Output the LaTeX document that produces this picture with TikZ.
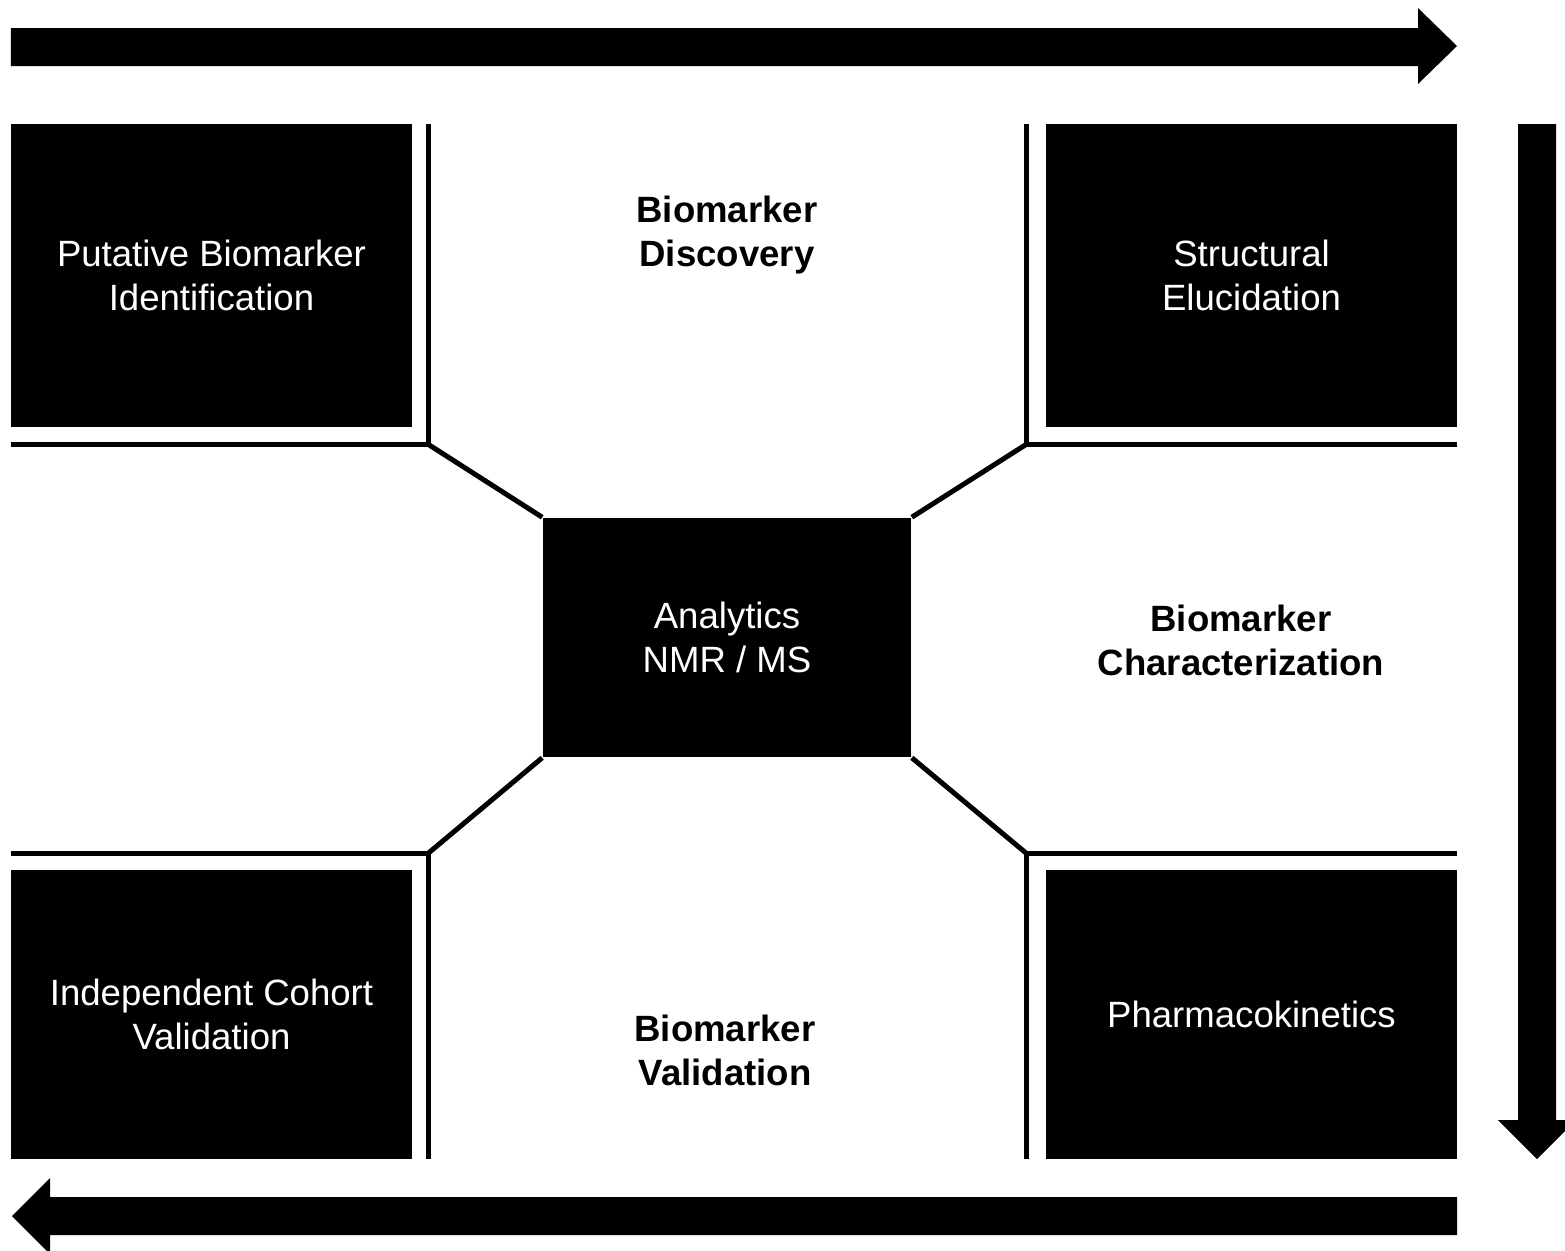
\documentclass[tikz,border=0pt]{standalone}
\usepackage{fontspec}
\setmainfont{Liberation Sans}
\usepackage{tikz}
\usetikzlibrary{positioning,calc}

\begin{document}
\begin{tikzpicture}[x=0.01cm, y=-0.01cm,
  every node/.style={font=\fontsize{10.4}{12.5}\selectfont, align=center},
  stagebox/.style={fill=black, text=white, inner sep=0pt, minimum width=4.01cm},
  stagename/.style={font=\fontsize{10.4}{12.5}\selectfont\bfseries},
  frame/.style={line width=0.05cm},
  bigarrow/.style={fill=black}]
\useasboundingbox (0,0) rectangle (1565,1250);
\clip (0,0) rectangle (1565,1250);

% process arrows round the edge
\fill[bigarrow] (11,28) -- (1418,28) -- (1418,8) -- (1457,46) -- (1418,84) -- (1418,66) -- (11,66) -- cycle;
\fill[bigarrow] (1518,124) -- (1556,124) -- (1556,1120) -- (1576,1120) -- (1537,1159) -- (1498,1120) -- (1518,1120) -- cycle;
\fill[bigarrow] (1457,1197) -- (50,1197) -- (50,1178) -- (12,1216) -- (50,1254) -- (50,1235) -- (1457,1235) -- cycle;

% corner boxes
\node[stagebox, minimum height=3.03cm] (ident) at (211.5,275.5) {Putative Biomarker\\Identification};
\node[stagebox, minimum width=4.11cm, minimum height=3.03cm] (struct) at (1251.5,275.5) {Structural\\Elucidation};
\node[stagebox, minimum height=2.89cm] (cohort) at (211.5,1014.5) {Independent Cohort\\Validation};
\node[stagebox, minimum width=4.11cm, minimum height=2.89cm] (pk) at (1251.5,1014.5) {Pharmacokinetics};

% centre
\node[stagebox, minimum width=3.68cm, minimum height=2.39cm] (ana) at (727,637.5) {Analytics\\NMR / MS};

% stage names
\node[stagename] (disc) at (727,235) {Biomarker\\Discovery};
\node[stagename] (char) at (1241,640) {Biomarker\\Characterization};
\node[stagename] (valid) at (725,1050) {Biomarker\\Validation};

% frames
\coordinate (ctl) at (428.5,444.5);
\coordinate (ctr) at (1026,444.5);
\coordinate (cbl) at (428.5,853);
\coordinate (cbr) at (1026,853);
\draw[frame] (428.5,124) -- (ctl) -- (11,444.5);
\draw[frame] (1026,124) -- (ctr) -- (1457,444.5);
\draw[frame] (11,853) -- (cbl) -- (428.5,1159);
\draw[frame] (1457,853) -- (cbr) -- (1026,1159);
\draw[frame] (ctl) -- (ana.north west);
\draw[frame] (ctr) -- (ana.north east);
\draw[frame] (cbl) -- (ana.south west);
\draw[frame] (cbr) -- (ana.south east);
\end{tikzpicture}
\end{document}
